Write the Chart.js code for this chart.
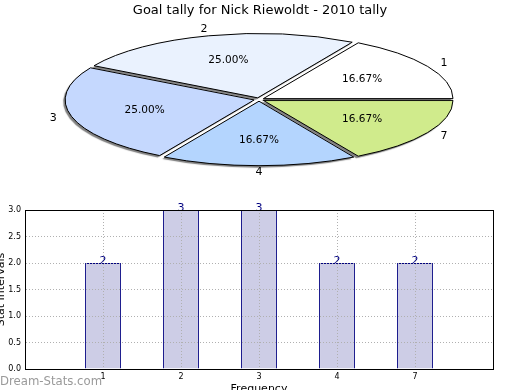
<!DOCTYPE html>
<html>
<head>
<meta charset="utf-8">
<script src="https://cdn.jsdelivr.net/npm/chart.js@4.4.0/dist/chart.umd.min.js"></script>
<style>
  html, body { margin: 0; padding: 0; background: #fff; }
  #wrap { position: relative; width: 520px; height: 390px; overflow: hidden; }
  #pieChart { position: absolute; left: 0; top: 0; }
  #barChart { position: absolute; left: 0; top: 200px; }
</style>
</head>
<body>
<div id="wrap">
  <canvas id="pieChart" width="520" height="200"></canvas>
  <canvas id="barChart" width="520" height="190"></canvas>
</div>
<script>
const chartTitle = 'Goal tally for Nick Riewoldt - 2010 tally';
const categories = ['1', '2', '3', '4', '7'];
const tallies = [2, 3, 3, 2, 2];
const sliceColors = ['#ffffff', '#eaf2fe', '#c5d8fe', '#b4d5fe', '#d0eb8c'];
const yTicks = [0, 0.5, 1, 1.5, 2, 2.5, 3];

Chart.defaults.font.family = 'DejaVu Sans';
Chart.defaults.color = '#000';

// pie is drawn round by Chart.js, then squashed into an ellipse
const PIE_CY = 99.5;
const PIE_RATIO = 0.34;

const squashPlugin = {
  id: 'squash',
  beforeDatasetDraw(chart, args) {
    const ctx = chart.ctx;
    const arc = args.meta.data[0];
    ctx.save();
    const base = ctx.getTransform();
    ctx.translate(arc.x - 1, PIE_CY);
    ctx.scale(1, PIE_RATIO);
    ctx.translate(-arc.x, -arc.y);
    // keep outlines 1px everywhere, and no shadow from the outline itself
    const origStroke = CanvasRenderingContext2D.prototype.stroke;
    ctx.stroke = function () {
      this.save();
      this.setTransform(base);
      this.shadowColor = 'rgba(0,0,0,0)';
      origStroke.apply(this, arguments);
      this.restore();
    };
    ctx.shadowColor = 'rgba(0,0,0,0.5)';
    ctx.shadowOffsetX = -2;
    ctx.shadowOffsetY = 2;
    ctx.shadowBlur = 1;
  },
  afterDatasetDraw(chart) {
    delete chart.ctx.stroke;
    chart.ctx.restore();
  },
  afterDatasetsDraw(chart) {
    const ctx = chart.ctx;
    const meta = chart.getDatasetMeta(0);
    const values = chart.data.datasets[0].data;
    const total = values.reduce((a, b) => a + b, 0);
    ctx.save();
    ctx.fillStyle = '#000';
    ctx.textAlign = 'center';
    ctx.textBaseline = 'middle';
    meta.data.forEach((arc, i) => {
      const mid = (arc.startAngle + arc.endAngle) / 2;
      const circ = arc.endAngle - arc.startAngle;
      const shift = (arc.options.offset / 4) * (2 - Math.sin(Math.min(Math.PI, circ)));
      const R = arc.outerRadius;
      const at = (r) => ({
        x: arc.x - 1 + Math.cos(mid) * (r + shift),
        y: PIE_CY + Math.sin(mid) * (r + shift) * PIE_RATIO
      });
      const p = at(R * 0.6);
      ctx.font = '10.5px "DejaVu Sans"';
      ctx.fillText((values[i] / total * 100).toFixed(2) + '%', p.x, p.y);
      const l = at(R * 1.1);
      ctx.font = '11px "DejaVu Sans"';
      ctx.fillText(chart.data.labels[i], l.x, l.y);
    });
    ctx.restore();
  }
};

// Chart.js goes clockwise, matplotlib counter-clockwise: reverse the order
const pieChart = new Chart(document.getElementById('pieChart'), {
  type: 'pie',
  data: {
    labels: categories.slice().reverse(),
    datasets: [{
      data: tallies.slice().reverse(),
      backgroundColor: sliceColors.slice().reverse(),
      borderColor: '#000',
      borderWidth: 1,
      offset: 20,
      hoverOffset: 0,
      radius: 189,
      rotation: 90
    }]
  },
  options: {
    responsive: false,
    animation: false,
    events: [],
    plugins: {
      legend: { display: false },
      tooltip: { enabled: false },
      title: {
        display: true,
        text: chartTitle,
        color: '#000',
        font: { size: 13, weight: 'normal' },
        padding: { top: 3, bottom: 0 }
      }
    }
  },
  plugins: [squashPlugin]
});

// ============= BAR CHART =============
const barLabelsPlugin = {
  id: 'barLabels',
  afterDatasetsDraw(chart) {
    const ctx = chart.ctx;
    const meta = chart.getDatasetMeta(0);
    const values = chart.data.datasets[0].data;
    ctx.save();
    ctx.fillStyle = '#000080';
    ctx.font = '11px "DejaVu Sans"';
    ctx.textAlign = 'center';
    ctx.textBaseline = 'alphabetic';
    meta.data.forEach((bar, i) => {
      if (values[i] == null) return;
      ctx.fillText(String(values[i]), bar.x, bar.y + 1);
    });
    ctx.restore();
  },
  afterDraw(chart) {
    const ctx = chart.ctx;
    const a = chart.chartArea;
    ctx.save();
    ctx.strokeStyle = '#000';
    ctx.lineWidth = 1;
    ctx.strokeRect(Math.round(a.left) + 0.5, Math.round(a.top) + 0.5,
      Math.round(a.right - a.left), Math.round(a.bottom - a.top));
    ctx.fillStyle = '#9a9a9a';
    ctx.font = '13px "DejaVu Sans Condensed"';
    ctx.textAlign = 'left';
    ctx.textBaseline = 'alphabetic';
    ctx.fillText('Dream-Stats.com', 0, 185);
    ctx.restore();
  }
};

const tickFont = { size: 8 };

const barChart = new Chart(document.getElementById('barChart'), {
  type: 'bar',
  data: {
    labels: ['', ...categories, ''],
    datasets: [{
      data: [null, ...tallies, null],
      backgroundColor: '#cdcde6',
      borderColor: '#000080',
      borderWidth: 1,
      barPercentage: 0.46,
      categoryPercentage: 1
    }]
  },
  options: {
    responsive: false,
    animation: false,
    events: [],
    layout: { padding: { top: 10, right: 27, left: 0, bottom: 0 } },
    plugins: {
      legend: { display: false },
      tooltip: { enabled: false }
    },
    scales: {
      x: {
        offset: false,
        grid: { offset: false, color: '#b0b0b0', lineWidth: 1, drawTicks: false, z: 1 },
        border: { color: '#000', width: 1, dash: [1, 2], z: 2 },
        ticks: { font: tickFont, color: '#000', padding: 3, autoSkip: false, maxRotation: 0 },
        title: {
          display: true, text: 'Frequency', color: '#000',
          font: { size: 11 }, padding: { top: 0, bottom: -6 }
        },
        afterFit(s) { s.height = 21; }
      },
      y: {
        min: 0,
        max: 3,
        grid: { color: '#b0b0b0', lineWidth: 1, drawTicks: false, z: 1 },
        border: { color: '#000', width: 1, dash: [1, 2], z: 2 },
        ticks: { font: tickFont, color: '#000', padding: 4, callback: v => Number(v).toFixed(1) },
        afterBuildTicks(s) { s.ticks = yTicks.map(v => ({ value: v })); },
        title: {
          display: true, text: 'Stat Intervals', color: '#000',
          font: { size: 11 }, padding: { top: -5, bottom: 0 }
        },
        afterFit(s) { s.width = 25; }
      }
    }
  },
  plugins: [barLabelsPlugin]
});
</script>
</body>
</html>
